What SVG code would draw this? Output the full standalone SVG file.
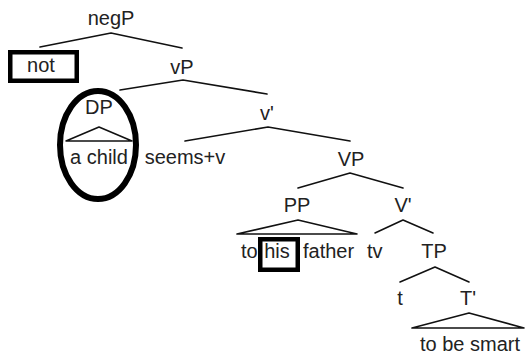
<svg xmlns="http://www.w3.org/2000/svg" width="525" height="356" viewBox="0 0 525 356">
<style>
text{font-family:"Liberation Sans",Arial,Helvetica,sans-serif;font-size:20px;fill:#222}
.c{text-anchor:middle}
.e{fill:none;stroke:#111;stroke-width:1.6;stroke-linecap:round;stroke-linejoin:round}
.box{fill:none;stroke:#000;stroke-width:4.5}
</style>
<rect width="525" height="356" fill="#fff"/>
<g id="connectors">
<path class="e" d="M111,33 L40,47 M111,33 L182,48"/>
<path class="e" d="M183,80 L120,90 M183,80 L267,94"/>
<path class="e" d="M268,127 L185,141 M268,127 L350,141"/>
<path class="e" d="M350,173 L298,188 M350,173 L403,188"/>
<path class="e" d="M403,220 L375,233 M403,220 L433,233"/>
<path class="e" d="M435,267 L400,282 M435,267 L469,282"/>
<path class="e" d="M99,127 L66,141 L132,141 Z"/>
<path class="e" d="M298,220 L237,234 L357,234 Z"/>
<path class="e" d="M469,313 L412,328 L524,328 Z"/>
</g>
<g id="negP"><text class="c" x="111" y="25">negP</text></g>
<g id="not"><rect class="box" x="10.25" y="52.25" width="66.5" height="28.5"/><text class="c" x="41" y="72">not</text></g>
<g id="vP"><text class="c" x="182" y="74">vP</text></g>
<g id="DP"><text class="c" x="99" y="114">DP</text><text class="c" x="99" y="164">a child</text><ellipse cx="98" cy="145" rx="38" ry="54" fill="none" stroke="#000" stroke-width="6"/></g>
<g id="seems"><text class="c" x="185" y="164">seems+v</text></g>
<g id="vbar"><text class="c" x="267" y="120">v'</text></g>
<g id="VP"><text class="c" x="351" y="166">VP</text></g>
<g id="PP"><text class="c" x="297" y="212">PP</text><text x="241" y="258">to</text><text class="c" x="277" y="258">his</text><text x="303" y="258">father</text><rect class="box" x="260.25" y="239.25" width="37.5" height="30.5"/></g>
<g id="tv"><text x="367" y="258">tv</text></g>
<g id="Vbar"><text class="c" x="403" y="212">V'</text></g>
<g id="TP"><text class="c" x="434" y="258">TP</text></g>
<g id="t"><text class="c" x="400" y="305">t</text></g>
<g id="Tbar"><text class="c" x="468" y="305">T'</text><text class="c" x="470" y="351">to be smart</text></g>
</svg>
